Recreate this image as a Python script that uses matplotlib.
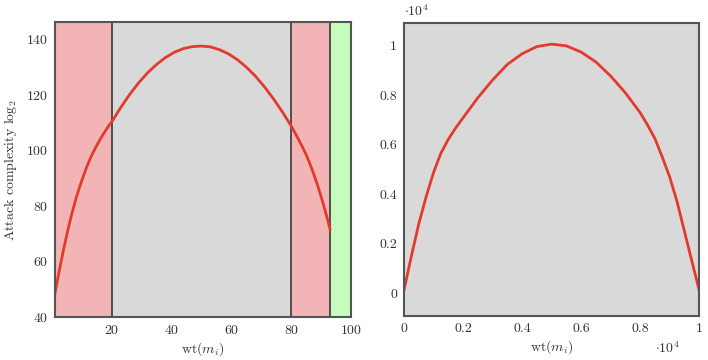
import matplotlib
matplotlib.use('Agg')
import matplotlib.pyplot as plt
from matplotlib.ticker import FuncFormatter

plt.rcParams['font.family'] = 'serif'
plt.rcParams['font.serif'] = ['cmr10']
plt.rcParams['mathtext.fontset'] = 'cm'
plt.rcParams['axes.formatter.use_mathtext'] = True
plt.rcParams['font.size'] = 10

# left panel: attack complexity vs weight
wt = [1, 2, 3, 4, 5, 6, 7, 8, 9, 10, 11, 12, 13, 14, 15, 16, 17, 18, 19,
      20, 23, 26, 29, 32, 35, 38, 41, 44, 47, 50, 53, 56, 59, 62, 65, 68,
      71, 74, 77, 80, 81, 82, 83, 84, 85, 86, 87, 88, 89, 90, 91, 92, 93]
cplx = [48.6, 54.3, 59.8, 65.0, 69.9, 74.5, 78.7, 82.6, 86.1, 89.3, 92.3,
        95.1, 97.6, 99.8, 101.9, 103.8, 105.6, 107.3, 108.9,
        110.3, 115.5, 120.2, 124.4, 128.0, 131.0, 133.5, 135.4, 136.7,
        137.4, 137.6, 137.3, 136.3, 134.8, 132.7, 130.0, 126.8, 123.0,
        118.7, 114.0, 108.8, 106.9, 104.9, 102.85, 100.75, 98.5, 95.9,
        93.1, 90.1, 86.9, 83.4, 79.7, 75.8, 71.7]
bounds = [20, 80, 93]

# right panel
wt2 = [0, 250, 500, 750, 1000, 1250, 1500, 1750, 2000, 2500, 3000, 3500,
       4000, 4500, 5000, 5500, 6000, 6500, 7000, 7500, 8000, 8250, 8500,
       8750, 9000, 9250, 9500, 9750, 10000]
val2 = [120, 1500, 2800, 3900, 4880, 5660, 6220, 6680, 7090, 7900, 8620,
        9250, 9680, 9970, 10070, 10000, 9750, 9350, 8780, 8100, 7300, 6800,
        6250, 5500, 4700, 3700, 2500, 1300, 120]

red_fill = '#f2b4b4'
green_fill = '#c6fdbd'
bg = '#d9d9d9'
line_red = '#e23b2e'
edge = '#555555'
txt = '#333333'

fig = plt.figure(figsize=(7.08, 3.6), dpi=100)
ax1 = fig.add_axes([0.0777, 0.1194, 0.418, 0.819])
ax2 = fig.add_axes([0.5706, 0.1222, 0.417, 0.815])

for ax in (ax1, ax2):
    ax.set_facecolor(bg)
    for s in ax.spines.values():
        s.set_color(edge)
        s.set_linewidth(1.5)
    ax.tick_params(length=0, pad=5, labelsize=10, colors=txt)

ax1.axvspan(1, bounds[0], color=red_fill, lw=0)
ax1.axvspan(bounds[1], bounds[2], color=red_fill, lw=0)
ax1.axvspan(bounds[2], 100, color=green_fill, lw=0)
for b in bounds:
    ax1.axvline(b, color='#444444', lw=1.3)
ax1.plot(wt, cplx, color=line_red, lw=2)
ax1.set_xlim(1, 100)
ax1.set_ylim(40, 146.2)
ax1.set_xticks([20, 40, 60, 80, 100])
ax1.set_yticks([40, 60, 80, 100, 120, 140])
ax1.set_xlabel(r'wt$(m_i)$', labelpad=2, color=txt)
ax1.set_ylabel(r'Attack complexity $\log_2$', labelpad=5, color=txt)

ax2.plot(wt2, val2, color=line_red, lw=2)
ax2.set_xlim(0, 10000)
ax2.set_ylim(-920, 10940)
ax2.set_xticks([0, 2000, 4000, 6000, 8000, 10000])
ax2.set_yticks([0, 2000, 4000, 6000, 8000, 10000])
fmt = FuncFormatter(lambda v, p: '%g' % (v / 1e4))
ax2.xaxis.set_major_formatter(fmt)
ax2.yaxis.set_major_formatter(fmt)
ax2.set_xlabel(r'wt$(m_i)$', labelpad=2, color=txt)
ax2.text(0.0, 1.04, r'$\cdot 10^4$', transform=ax2.transAxes, fontsize=10,
         ha='left', va='center', color=txt)
ax2.text(0.894, -0.11, r'$\cdot 10^4$', transform=ax2.transAxes, fontsize=10,
         ha='center', va='center', color=txt)

fig.savefig('out.png', dpi=100)
